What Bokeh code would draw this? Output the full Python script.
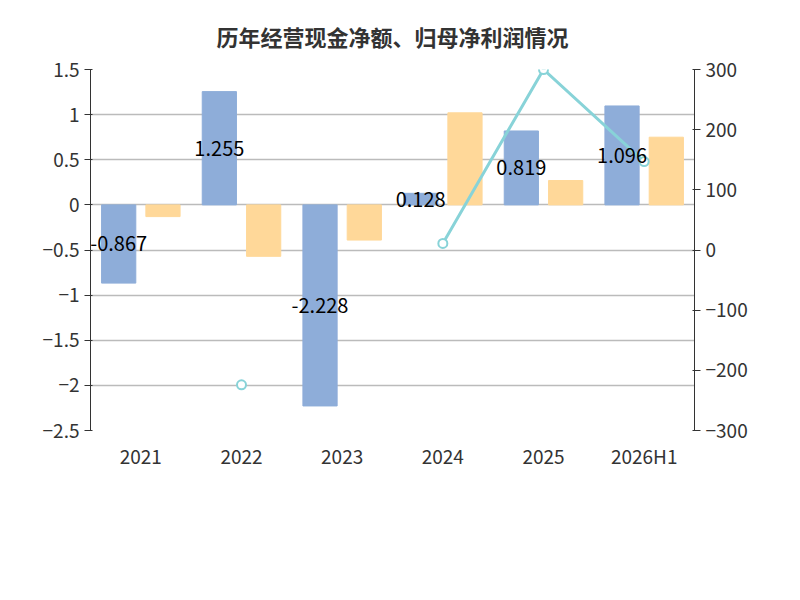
from bokeh.plotting import figure
from bokeh.models import Range1d, LinearAxis, FactorRange, Legend, LegendItem, Label, ColumnDataSource, FixedTicker
from bokeh.transform import dodge
from bokeh.embed import file_html
from bokeh.resources import INLINE
import math

years = ["2021", "2022", "2023", "2024", "2025", "2026H1"]
cash = [-0.867, 1.255, -2.228, 0.128, 0.819, 1.096]
profit = [-0.13, -0.57, -0.39, 1.02, 0.27, 0.75]
ratio = [float("nan"), -224, float("nan"), 11, 300, 147]
cash_labels = ["-0.867", "1.255", "-2.228", "0.128", "0.819", "1.096"]

F = "Noto Sans CJK SC"
src = ColumnDataSource(dict(x=years, cash=cash, profit=profit, ratio=ratio,
                            lab=cash_labels, mid=[c / 2 for c in cash]))

p = figure(width=784, height=584, x_range=FactorRange(*years), y_range=Range1d(-2.5, 1.5),
           output_backend="svg", toolbar_location=None,
           min_border_left=90, min_border_right=90, min_border_top=30, min_border_bottom=154)
p.extra_y_ranges = {"r": Range1d(-300, 300)}
p.title.text = "历年经营现金净额、归母净利润情况"
p.title.align = "center"
p.title.text_font = F
p.title.text_font_size = "22px"
p.title.text_color = "#333333"
p.title.standoff = 35
p.outline_line_color = None

b1 = p.vbar(x=dodge("x", -0.22, range=p.x_range), top="cash", width=0.34, source=src, color="#8eadd9")
b2 = p.vbar(x=dodge("x", 0.22, range=p.x_range), top="profit", width=0.34, source=src, color="#ffd899")
ln = p.line(x="x", y="ratio", source=src, y_range_name="r", color="#88d3d8", line_width=3)
sc = p.scatter(x="x", y="ratio", source=src, y_range_name="r", size=9, fill_color="white",
               line_color="#88d3d8", line_width=2)
p.text(x=dodge("x", -0.22, range=p.x_range), y="mid", text="lab", source=src,
       text_align="center", text_baseline="middle", text_font_size="20px",
       text_font={"value": F}, text_color="black")

p.yaxis.ticker = FixedTicker(ticks=[-2.5, -2, -1.5, -1, -0.5, 0, 0.5, 1, 1.5])
ra = LinearAxis(y_range_name="r", ticker=FixedTicker(ticks=list(range(-300, 301, 100))))
p.add_layout(ra, "right")
for ax in [p.yaxis[0], ra, p.xaxis[0]]:
    ax.major_label_text_font = F
    ax.major_label_text_font_size = "19px"
    ax.major_label_text_color = "#333333"
    ax.axis_line_color = "#333333"
    ax.major_tick_line_color = "#333333"
    ax.minor_tick_line_color = None
p.xaxis.major_tick_line_color = None
p.xaxis.axis_line_color = None
p.xgrid.grid_line_color = None
p.ygrid.grid_line_color = "#bbbbbb"
p.ygrid.grid_line_width = 1.5

p.add_layout(Label(x=-62, y=1.25, x_units="screen", text="(亿元)", angle=math.pi / 2,
                   text_color="red", text_font=F, text_font_size="15px",
                   text_align="center", text_baseline="middle"))
p.add_layout(Label(x=636, y=1.45, x_units="screen", text="%", angle=-math.pi / 2,
                   text_color="red", text_font=F, text_font_size="15px",
                   text_align="center", text_baseline="middle"))
p.add_layout(Label(x=279, y=-150, x_units="screen", y_units="screen", text="制图数据来自恒生聚源数据库",
                   text_color="#c8961e", text_font=F, text_font_size="15px",
                   text_align="center", text_baseline="bottom"))

leg = Legend(items=[LegendItem(label="经营活动现金流净额", renderers=[b1]),
                    LegendItem(label="归母净利润", renderers=[b2]),
                    LegendItem(label="净现比", renderers=[ln, sc])],
             orientation="horizontal", location=(-55, -117), label_text_font=F,
             label_text_font_size="20px", label_text_color="#333333",
             glyph_width=48, glyph_height=26, spacing=25, border_line_color=None,
             background_fill_alpha=0)
p.add_layout(leg, "center")

open("out.html", "w").write(file_html(p, INLINE))
